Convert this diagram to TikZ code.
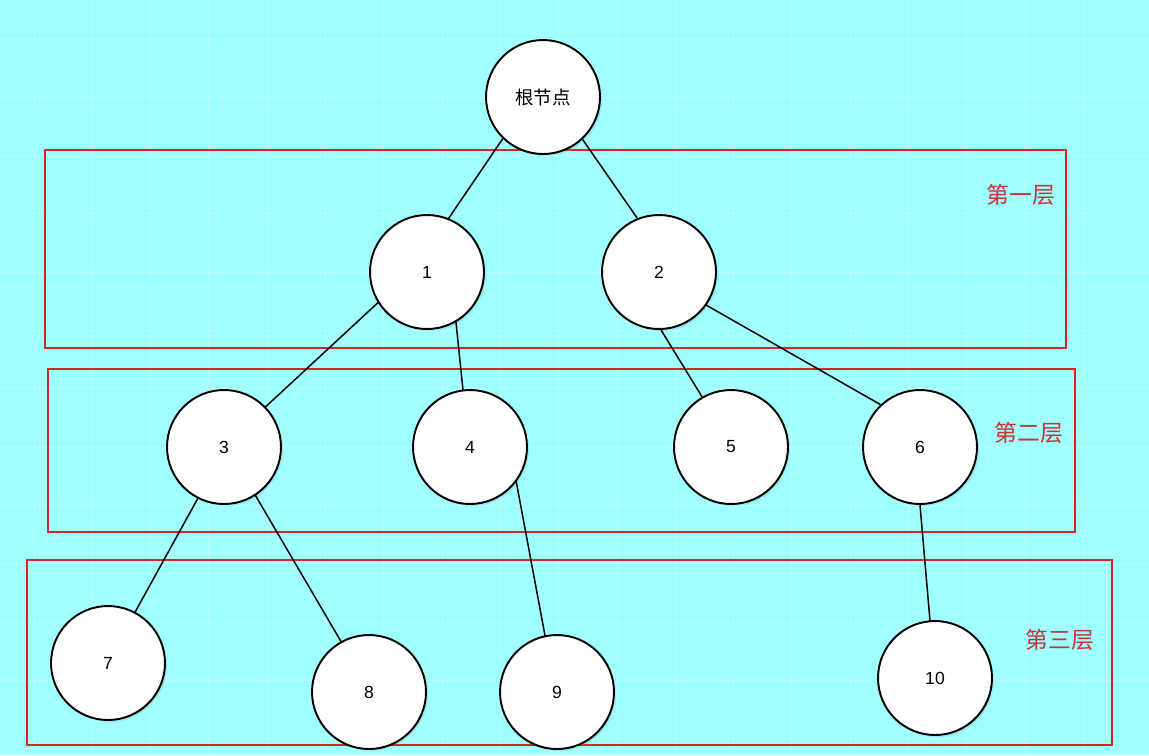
\documentclass[tikz,border=0pt]{standalone}
\usepackage{fontspec}
\setmainfont{Liberation Sans}
\newfontfamily\cjk{Noto Sans CJK SC}
\usetikzlibrary{shadows}
\definecolor{bgcyan}{RGB}{160,255,255}
\definecolor{gridcyan}{RGB}{184,255,255}
\definecolor{layerred}{RGB}{218,36,36}
\definecolor{labelred}{RGB}{196,52,52}

\begin{document}
\begin{tikzpicture}[x=0.02cm, y=-0.02cm,
    treenode/.style={circle, draw=black, line width=1.1pt, fill=white,
      minimum size=2.28cm, inner sep=0pt, font=\fontsize{10}{12}\selectfont,
      drop shadow={shadow xshift=1.2pt, shadow yshift=-1.2pt, opacity=0.18}},
    edge/.style={line width=0.85pt, line cap=round},
    layerbox/.style={draw=layerred, line width=1.2pt},
    layerlabel/.style={text=labelred, font=\cjk\fontsize{13}{15}\selectfont},
    gridline/.style={draw=gridcyan, line width=0.5pt}]
  \useasboundingbox (0,0) rectangle (1149,755);
  % background with its grid
  \fill[bgcyan] (0,0) rectangle (1149,755);
  \foreach \gx in {34,92.3,...,1140} \draw[gridline] (\gx,0) -- (\gx,755);
  \foreach \gy in {39,97.3,...,750} \draw[gridline] (0,\gy) -- (1149,\gy);

  % layers
  \draw[layerbox] (45,150) rectangle (1066,348);
  \draw[layerbox] (48,369) rectangle (1075,532);
  \draw[layerbox] (27,560) rectangle (1112,745);
  \node[layerlabel] (lab1) at (1021,195) {第一层};
  \node[layerlabel] (lab2) at (1029,433) {第二层};
  \node[layerlabel] (lab3) at (1060,640) {第三层};

  % tree
  \node[treenode, font=\cjk\fontsize{10.5}{12}\selectfont] (root) at (543,97) {根节点};
  \node[treenode] (n1) at (427,272) {1};
  \node[treenode] (n2) at (659,272) {2};
  \node[treenode] (n3) at (224,447) {3};
  \node[treenode] (n4) at (470,447) {4};
  \node[treenode] (n5) at (731,447) {5};
  \node[treenode] (n6) at (920,447) {6};
  \node[treenode] (n7) at (108,663) {7};
  \node[treenode] (n8) at (369,692) {8};
  \node[treenode] (n9) at (557,692) {9};
  \node[treenode] (n10) at (935,678) {10};

  \draw[edge] (root.226) -- (n1.68);
  \draw[edge] (root.313) -- (n2.112);
  \draw[edge] (n1.212) -- (n3.44);
  \draw[edge] (n1.300) -- (n4.97);
  \draw[edge] (n2.272) -- (n5.120);
  \draw[edge] (n2.325) -- (n6.133);
  \draw[edge] (n3.243) -- (n7.62);
  \draw[edge] (n3.303) -- (n8.119);
  \draw[edge] (n4.323) -- (n9.102);
  \draw[edge] (n6.270) -- (n10.95);
\end{tikzpicture}
\end{document}
